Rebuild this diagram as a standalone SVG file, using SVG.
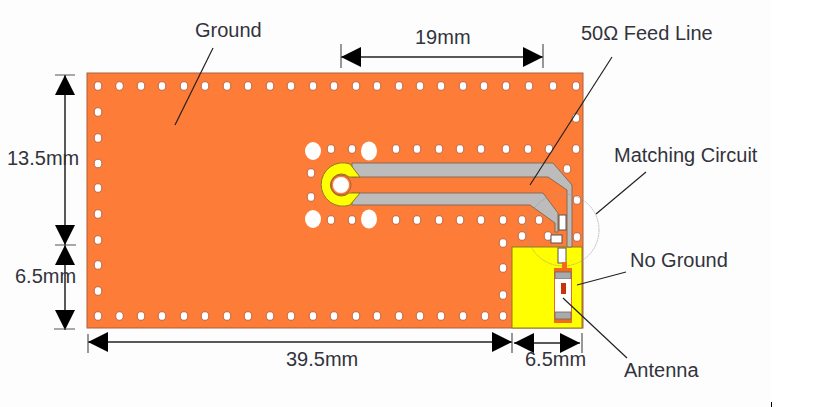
<svg xmlns="http://www.w3.org/2000/svg" width="815" height="407" viewBox="0 0 815 407">
<style>
.t{font-family:"Liberation Sans",Arial,sans-serif;font-size:20px;fill:#33333b}
.h{fill:#fff;stroke:#b8694a;stroke-width:1}
.l{stroke:#222;stroke-width:1.2;fill:none}
.d{stroke:#222;stroke-width:1.5;fill:none;marker-start:url(#a);marker-end:url(#a)}
.k{stroke:#555;stroke-width:1.2}
.c{fill:#fff;stroke:#555;stroke-width:1}
</style>
<defs>
<marker id="a" viewBox="0 0 20 20" refX="20" refY="10" markerWidth="20" markerHeight="20" markerUnits="userSpaceOnUse" orient="auto-start-reverse"><path d="M0 0L20 10L0 20Z" fill="#000"/></marker>
<ellipse id="o" rx="3.800" ry="4.300" class="h"/>
</defs>
<rect width="771" height="407" fill="#fdfdfe"/>
<rect x="771" width="44" height="407" fill="#fff"/>
<path d="M771.500 402V407" stroke="#000"/>
<g id="board">
<rect x="87" y="73" width="496" height="255" fill="#fd7c38" stroke="#a8603c" stroke-width="1"/>
</g>
<g id="no-ground">
<rect x="512" y="247" width="70" height="81" fill="#ffff00" stroke="#8a7a20" stroke-width="1"/>
</g>
<g id="holes">
<use href="#o" x="98" y="86"/><use href="#o" x="119.500" y="86"/><use href="#o" x="141" y="86"/><use href="#o" x="162" y="86"/><use href="#o" x="184" y="86"/><use href="#o" x="205" y="86"/><use href="#o" x="227" y="86"/><use href="#o" x="248" y="86"/><use href="#o" x="270" y="86"/><use href="#o" x="291" y="86"/><use href="#o" x="313" y="86"/><use href="#o" x="334" y="86"/><use href="#o" x="356" y="86"/><use href="#o" x="377" y="86"/><use href="#o" x="399" y="86"/><use href="#o" x="420" y="86"/><use href="#o" x="441" y="86"/><use href="#o" x="463" y="86"/><use href="#o" x="484" y="86"/><use href="#o" x="506" y="86"/><use href="#o" x="529" y="86"/><use href="#o" x="553" y="86"/><use href="#o" x="576" y="86"/>
<use href="#o" x="98" y="112"/><use href="#o" x="98" y="138"/><use href="#o" x="98" y="163.500"/><use href="#o" x="98" y="188"/><use href="#o" x="98" y="214"/><use href="#o" x="98" y="240"/><use href="#o" x="98" y="265"/><use href="#o" x="98" y="291"/>
<use href="#o" x="98" y="316"/><use href="#o" x="119.500" y="316"/><use href="#o" x="141" y="316"/><use href="#o" x="162" y="316"/><use href="#o" x="184" y="316"/><use href="#o" x="205" y="316"/><use href="#o" x="227" y="316"/><use href="#o" x="248" y="316"/><use href="#o" x="270" y="316"/><use href="#o" x="291" y="316"/><use href="#o" x="313" y="316"/><use href="#o" x="334" y="316"/><use href="#o" x="356" y="316"/><use href="#o" x="377" y="316"/><use href="#o" x="399" y="316"/><use href="#o" x="420" y="316"/><use href="#o" x="441" y="316"/><use href="#o" x="463" y="316"/><use href="#o" x="485" y="316"/><use href="#o" x="503" y="316"/>
<use href="#o" x="503" y="243"/><use href="#o" x="503" y="268"/><use href="#o" x="503" y="295"/>
<use href="#o" x="576" y="118"/><use href="#o" x="576" y="149"/><use href="#o" x="567" y="169"/><use href="#o" x="577" y="200"/><use href="#o" x="577" y="237"/>
<use href="#o" x="331" y="149"/><use href="#o" x="352" y="149"/><use href="#o" x="396" y="149"/><use href="#o" x="417" y="149"/><use href="#o" x="439" y="149"/><use href="#o" x="460" y="149"/><use href="#o" x="481" y="149"/><use href="#o" x="506" y="149"/><use href="#o" x="528" y="149"/><use href="#o" x="549" y="149"/>
<use href="#o" x="331" y="220"/><use href="#o" x="352" y="220"/><use href="#o" x="396" y="220"/><use href="#o" x="417" y="220"/><use href="#o" x="439" y="220"/><use href="#o" x="460" y="220"/><use href="#o" x="481" y="220"/><use href="#o" x="503" y="220"/><use href="#o" x="522" y="220"/><use href="#o" x="539" y="220"/>
<use href="#o" x="522" y="236"/><use href="#o" x="548" y="236"/><use href="#o" x="311" y="173"/><use href="#o" x="311" y="197"/>
<ellipse cx="313" cy="151" rx="8" ry="9" fill="#fff"/><ellipse cx="369" cy="151" rx="8" ry="9.500" fill="#fff"/><ellipse cx="313" cy="219" rx="8" ry="9" fill="#fff"/><ellipse cx="369" cy="219" rx="8" ry="9.500" fill="#fff"/>
</g>
<g id="feed-line">
<path d="M352 163H553L572 185V247H567V190L548 177H352ZM352 193H543L558 213V232H555V223L530 205H352Z" fill="#bcbcbc" stroke="#8a6a50" stroke-width="1"/>
<path d="M350 164A21.700 21.700 0 1 0 350 205L360 193H349A11 11 0 1 1 349 177H360Z" fill="#ffff00" stroke="#8a7a20" stroke-width="1"/>
<circle cx="341" cy="185" r="10" fill="#fd7c38" stroke="#a8603c"/>
<circle cx="341" cy="185" r="8" fill="#fff"/>
</g>
<g id="matching-circuit">
<rect x="559" y="215" width="7" height="15" class="c"/>
<rect x="551" y="235" width="11" height="8" class="c"/>
<rect x="558" y="248" width="8" height="15" class="c"/>
<circle cx="563" cy="230" r="36" fill="none" stroke="#999" stroke-width="0.600" stroke-dasharray="2 0.600"/>
</g>
<g id="antenna">
<rect x="562" y="262" width="5" height="7" fill="#f26a1c"/>
<rect x="554" y="268" width="18" height="55" fill="#f26a1c"/>
<rect x="555" y="272" width="16" height="7" fill="#aaa" stroke="#666" stroke-width="0.800"/>
<rect x="555" y="279" width="16" height="33" fill="#fff"/>
<rect x="555" y="312" width="16" height="7" fill="#aaa" stroke="#666" stroke-width="0.800"/>
<rect x="561" y="283" width="5" height="11" fill="#c8330a"/>
</g>
<g id="connectors">
<path class="l" d="M213 48L175 125"/>
<path class="l" d="M612 57L530 185"/>
<path class="l" d="M646 172L596 214"/>
<path class="l" d="M626 272L577 285"/>
<path class="l" d="M627 358L563 298"/>
<path class="d" d="M65 75V245"/>
<path class="d" d="M65 245V330"/>
<path class="d" d="M88 342H512"/>
<path class="d" d="M514 343H580"/>
<path class="d" d="M341 57H543"/>
<path class="k" d="M55 75H75M55 245H76M54 329H75M88 334V353M512 333V353M582 333V353M341 44V68M543 44V68"/>
</g>
<g id="labels">
<text class="t" x="195" y="37">Ground</text>
<text class="t" x="415" y="44">19mm</text>
<text class="t" x="581" y="40">50Ω Feed Line</text>
<text class="t" x="7" y="165">13.5mm</text>
<text class="t" x="15" y="283">6.5mm</text>
<text class="t" x="286" y="366">39.5mm</text>
<text class="t" x="525" y="366">6.5mm</text>
<text class="t" x="624" y="377">Antenna</text>
<text class="t" x="614" y="162">Matching Circuit</text>
<text class="t" x="630" y="267">No Ground</text>
</g>
</svg>
